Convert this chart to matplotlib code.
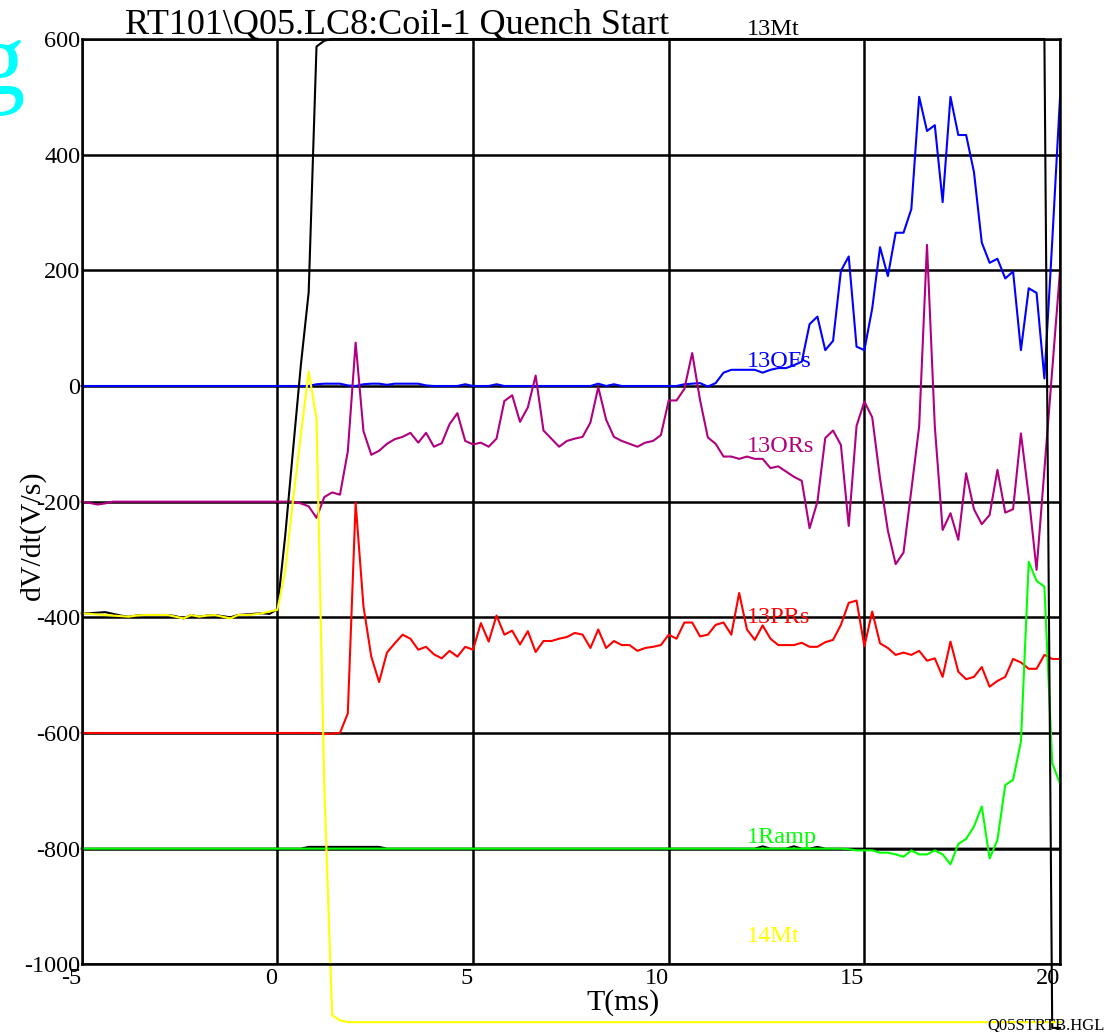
#!/usr/bin/env python3
# -*- coding: utf-8 -*-

import numpy as np
import matplotlib
matplotlib.use('Agg')
import matplotlib.pyplot as plt

#------------------------------------------------------
# quench record, dV/dt of each tap, 0.2 ms sampling
#------------------------------------------------------
time = np.round(np.arange(-25, 101) * 0.2, 1)

# 13Mt (black)
mt13 = ([-393, -393, -392, -391, -394, -397, -399, -397, -396, -396, -396, -396, -398,
         -402, -396, -399, -397, -396, -398, -400, -396, -395, -394, -393, -394]
        + [-386, -259, -111, 36, 162, 587, 597] + [600] * 92 + [-1110, -1110])

# 14Mt (yellow)
mt14 = ([-393, -394, -395, -396, -397, -398, -399, -397, -396, -396, -396, -396, -399,
         -402, -396, -399, -397, -396, -399, -402, -396, -396, -395, -393, -390]
        + [-387, -320, -197, -85, 25, -56, -695, -1088, -1097] + [-1100] * 92)

# 13OFs (blue)
ofs13 = ([0] * 25
         + [0, 0, 0, 0, 0, 3, 4, 4, 4, 1, 0, 3, 4, 4, 2, 4, 4, 4, 4, 1, 0, 0, 0, 0, 3,
            0, 0, 0, 3] + [0] * 12 + [4, 0, 3] + [0] * 8 + [3, 4]
         + [5, -1, 5, 23, 28, 28, 28, 28, 23, 28, 31, 31, 36, 42, 107, 120, 62, 78, 199,
            224, 68, 62, 134, 240, 190, 265, 265, 306, 500, 441, 451, 318, 500, 434, 434,
            370, 248, 213, 220, 186, 198, 62, 169, 161, 13, 250, 500])

# 13ORs (purple)
ors13 = ([-200, -202, -205, -203, -200] + [-200] * 20
         + [-200, -200, -200, -203, -208, -228, -192, -184, -188, -113, 75, -78, -119,
            -112, -100, -92, -88, -81, -98, -81, -105, -99, -66, -47, -95, -101, -98,
            -105, -91, -26, -16, -62, -37, 18, -77, -91, -105, -95, -91, -88, -63, -2,
            -58, -88, -95, -100, -105, -98, -95, -85, -25, -25, -5, 57, -24, -89, -100,
            -122, -122, -126, -122, -126, -126, -142, -139, -148, -157, -164, -246, -200,
            -90, -77, -102, -242, -69, -27, -54, -160, -250, -308, -288, -180, -70, 244,
            -70, -249, -220, -266, -151, -213, -239, -223, -145, -219, -213, -82, -191,
            -318, -145, 28, 200])

# 13PRs (red)
prs13 = ([-600] * 25
         + [-600, -600, -600, -600, -600, -600, -602, -601, -600, -566, -202, -381, -468,
            -512, -461, -445, -430, -437, -456, -451, -464, -471, -458, -468, -451, -456,
            -410, -442, -397, -430, -423, -447, -424, -460, -441, -441, -437, -434, -427,
            -430, -453, -421, -453, -441, -448, -448, -458, -453, -451, -448, -430, -437,
            -409, -409, -433, -430, -413, -409, -430, -358, -421, -439, -414, -437, -448,
            -448, -448, -444, -451, -451, -443, -439, -413, -375, -371, -450, -390, -445,
            -453, -465, -461, -465, -458, -475, -471, -503, -442, -494, -507, -503, -486,
            -520, -510, -503, -472, -478, -489, -489, -465, -472, -472])

# 1Ramp (green) and its black reference trace underneath
ramp1 = ([-800] * 25 + [-800] * 73
         + [-801, -803, -803, -803, -807, -807, -810, -814, -803, -810, -810, -803, -810,
            -827, -792, -783, -762, -727, -817, -785, -690, -681, -615, -304, -337, -347,
            -652, -688])
ramp_ref = ([-800] * 25 + [-800] * 4 + [-797] * 10 + [-800] * 48 + [-796] + [-800] * 3
            + [-796] + [-800] * 2 + [-797] + [-800] * 31)

# trace names, colours and label spots (ms, V/s)
names = ['13OFs', '13ORs', '13PRs', '1Ramp', '13Mt', '14Mt']
colors = ['#0000ff', '#b0007f', '#ff0000', '#00ff00', '#000000', '#ffff00']
label_x = [12.0, 12.0, 12.0, 12.0, 12.0, 12.0]
label_y = [33, -114, -410, -790, 607, -962]

#------------------------------------------------------
# plot
#------------------------------------------------------
plt.rcParams['font.family'] = 'Liberation Serif'
plt.rcParams['axes.unicode_minus'] = False

fig = plt.figure(figsize=(11.1, 10.32), dpi=100)
ax = fig.add_axes([0.0736, 0.0656, 0.8814, 0.8966])

ax.plot(time, ramp_ref, color='black', lw=1.5, clip_on=False)
series = [ofs13, ors13, prs13, ramp1, mt13, mt14]
for s, c in zip(series, colors):
    ax.plot(time, s, color=c, lw=1.5, clip_on=False)

for n, c, x, y in zip(names, colors, label_x, label_y):
    ax.text(x, y, n, color=c, fontsize=17.5, ha='left', va='baseline', clip_on=False)

ax.set_xlim(-5, 20)
ax.set_ylim(-1000, 600)
ax.set_xticks([-5, 0, 5, 10, 15, 20])
ax.set_yticks(np.arange(-1000, 601, 200))
ax.set_axisbelow(True)
ax.grid(True, color='black', lw=1.8)
for sp in ax.spines.values():
    sp.set_linewidth(1.8)
ax.tick_params(length=0, labelsize=17.5)
ax.tick_params(axis='x', pad=2.5)
ax.tick_params(axis='y', pad=1)
for lab in ax.get_xticklabels():
    lab.set_ha('right')

fig.text(125 / 1110, 1 - 33 / 1032, 'RT101\\Q05.LC8:Coil-1 Quench Start', fontsize=26,
         ha='left', va='baseline')
fig.text(32 / 1110, 1 - 535 / 1032, 'dV/dt(V/s)', fontsize=21.5, rotation=90,
         ha='center', va='center')
fig.text(623 / 1110, 1 - 1003 / 1032, 'T(ms)', fontsize=21.5, ha='center', va='center')
fig.text(987 / 1110, 1 - 1029 / 1032, 'Q05STRTB.HGL', fontsize=12, ha='left', va='baseline')
fig.text(-26 / 1110, 1 - 94 / 1032, 'g', fontsize=74, color='#00ffff', ha='left',
         va='baseline')

fig.savefig('out.png', dpi=100)
